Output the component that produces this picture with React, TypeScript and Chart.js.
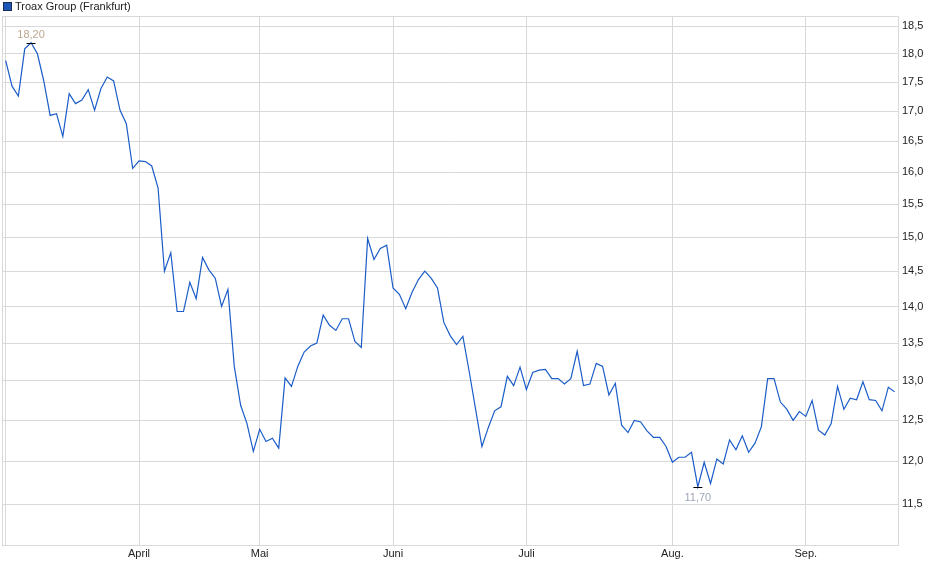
import { useEffect, useRef } from 'react';
import Chart from 'chart.js/auto';

const seriesName = 'Troax Group (Frankfurt)';

// daily closing prices, one per trading day (mid March to mid September)
const prices = [
  17.88, 17.43, 17.26, 18.09, 18.2, 18.0, 17.52, 16.93, 16.96, 16.58,
  17.3, 17.13, 17.19, 17.37, 17.02, 17.39, 17.59, 17.52, 17.02, 16.79,
  16.06, 16.18, 16.17, 16.1, 15.75, 14.5, 14.77, 13.93, 13.93, 14.34,
  14.11, 14.7, 14.52, 14.4, 14.0, 14.24, 13.19, 12.69, 12.46, 12.12,
  12.39, 12.24, 12.28, 12.16, 13.04, 12.93, 13.19, 13.38, 13.46, 13.5,
  13.88, 13.74, 13.67, 13.83, 13.83, 13.52, 13.44, 14.98, 14.67, 14.83,
  14.88, 14.26, 14.17, 13.97, 14.2, 14.38, 14.5, 14.4, 14.26, 13.78,
  13.6, 13.48, 13.59, 13.12, 12.64, 12.18, 12.41, 12.62, 12.67, 13.06,
  12.94, 13.18, 12.89, 13.11, 13.14, 13.15, 13.03, 13.03, 12.96, 13.03,
  13.39, 12.94, 12.96, 13.23, 13.19, 12.82, 12.97, 12.44, 12.35, 12.5,
  12.48, 12.37, 12.29, 12.29, 12.18, 11.99, 12.05, 12.05, 12.11, 11.7,
  11.99, 11.74, 12.03, 11.97, 12.26, 12.14, 12.31, 12.11, 12.22, 12.42,
  13.03, 13.03, 12.73, 12.64, 12.5, 12.61, 12.55, 12.75, 12.38, 12.32,
  12.46, 12.93, 12.64, 12.78, 12.76, 12.99, 12.76, 12.75, 12.62, 12.92,
  12.86,
];

// index of the first trading day of each month
const monthTickIdx = [0, 21, 40, 61, 82, 105, 126];
const monthLabels = ['', 'April', 'Mai', 'Juni', 'Juli', 'Aug.', 'Sep.'];

const priceTicks = [
  11.5, 12.0, 12.5, 13.0, 13.5, 14.0, 14.5, 15.0, 15.5, 16.0, 16.5, 17.0, 17.5, 18.0, 18.5,
];

const LINE = '#1a5cc8';
const GRID = '#d9d9d9';
const TEXT = '#222222';
const FONT = 'Arial, "Liberation Sans", sans-serif';

const fmt = (v: number, digits: number) => v.toFixed(digits).replace('.', ',');

const framePlugin = {
  id: 'frame',
  beforeDatasetsDraw(chart: any) {
    const { ctx, chartArea: a } = chart;
    ctx.save();
    ctx.strokeStyle = GRID;
    ctx.lineWidth = 1;
    ctx.strokeRect(a.left + 0.5, a.top + 0.5, a.right - a.left - 1, a.bottom - a.top);
    ctx.restore();
  },
};

const extremesPlugin = {
  id: 'extremes',
  afterDatasetsDraw(chart: any) {
    const { ctx, scales } = chart;
    const hi = prices.indexOf(Math.max(...prices));
    const lo = prices.indexOf(Math.min(...prices));
    const mark = (i: number, color: string, dy: number) => {
      const x = scales.x.getPixelForValue(i);
      const y = Math.round(scales.y.getPixelForValue(prices[i])) + 0.5;
      ctx.save();
      ctx.strokeStyle = '#000';
      ctx.lineWidth = 1;
      ctx.beginPath();
      ctx.moveTo(x - 4.5, y);
      ctx.lineTo(x + 4.5, y);
      ctx.stroke();
      ctx.fillStyle = color;
      ctx.font = `11px ${FONT}`;
      ctx.textAlign = 'center';
      ctx.textBaseline = 'middle';
      ctx.fillText(fmt(prices[i], 2), x, y + dy);
      ctx.restore();
    };
    mark(hi, '#bca78d', -9);
    mark(lo, '#9ea8b8', 10);
  },
};

const legendPlugin = {
  id: 'ownLegend',
  afterDraw(chart: any) {
    const { ctx } = chart;
    ctx.save();
    ctx.fillStyle = '#1c56b8';
    ctx.fillRect(3.5, 2.5, 8, 8);
    ctx.strokeStyle = '#1b2d55';
    ctx.lineWidth = 1;
    ctx.strokeRect(3.5, 2.5, 8, 8);
    ctx.fillStyle = TEXT;
    ctx.font = `11px ${FONT}`;
    ctx.textAlign = 'left';
    ctx.textBaseline = 'middle';
    ctx.fillText(seriesName, 15, 7);
    ctx.restore();
  },
};

function PriceChart() {
  const canvas = useRef<HTMLCanvasElement>(null);

  useEffect(() => {
    document.body.style.margin = '0';
    if (!canvas.current) return;
    const chart = new Chart(canvas.current, {
      type: 'line',
      data: {
        datasets: [
          {
            label: seriesName,
            data: prices.map((y, x) => ({ x, y })),
            borderColor: LINE,
            borderWidth: 1.2,
            pointRadius: 0,
            fill: false,
            tension: 0,
          },
        ],
      },
      options: {
        responsive: false,
        animation: false,
        events: [],
        layout: { padding: { left: 2, top: 16, right: 0, bottom: 0 } },
        plugins: {
          legend: { display: false },
          tooltip: { enabled: false },
        },
        scales: {
          x: {
            type: 'linear',
            min: -0.58,
            max: 140.68,
            afterFit: (scale: any) => {
              scale.height = 34;
            },
            afterBuildTicks: (scale: any) => {
              scale.ticks = monthTickIdx.map((value) => ({ value }));
            },
            grid: { color: GRID, lineWidth: 1, drawTicks: false },
            border: { display: false },
            ticks: {
              autoSkip: false,
              maxRotation: 0,
              padding: 2,
              color: TEXT,
              font: { family: FONT, size: 11 },
              callback: (value: any) => {
                const k = monthTickIdx.indexOf(Number(value));
                return k >= 0 ? monthLabels[k] : '';
              },
            },
          },
          y: {
            type: 'logarithmic',
            position: 'right',
            bounds: 'data',
            min: 11.043,
            max: 18.69,
            afterFit: (scale: any) => {
              scale.width = 41;
            },
            afterBuildTicks: (scale: any) => {
              scale.ticks = priceTicks.map((value) => ({ value }));
            },
            grid: { color: GRID, lineWidth: 1, drawTicks: false },
            border: { display: false },
            ticks: {
              autoSkip: false,
              padding: 3,
              color: TEXT,
              font: { family: FONT, size: 11 },
              callback: (value: any) => fmt(Number(value), 1),
            },
          },
        },
      },
      plugins: [framePlugin, extremesPlugin, legendPlugin],
    });
    return () => {
      chart.destroy();
    };
  }, []);

  return <canvas ref={canvas} width={940} height={579} style={{ display: 'block' }} />;
}

export default function App() {
  return (
    <div style={{ width: 940, height: 579, background: '#fff' }}>
      <PriceChart />
    </div>
  );
}
